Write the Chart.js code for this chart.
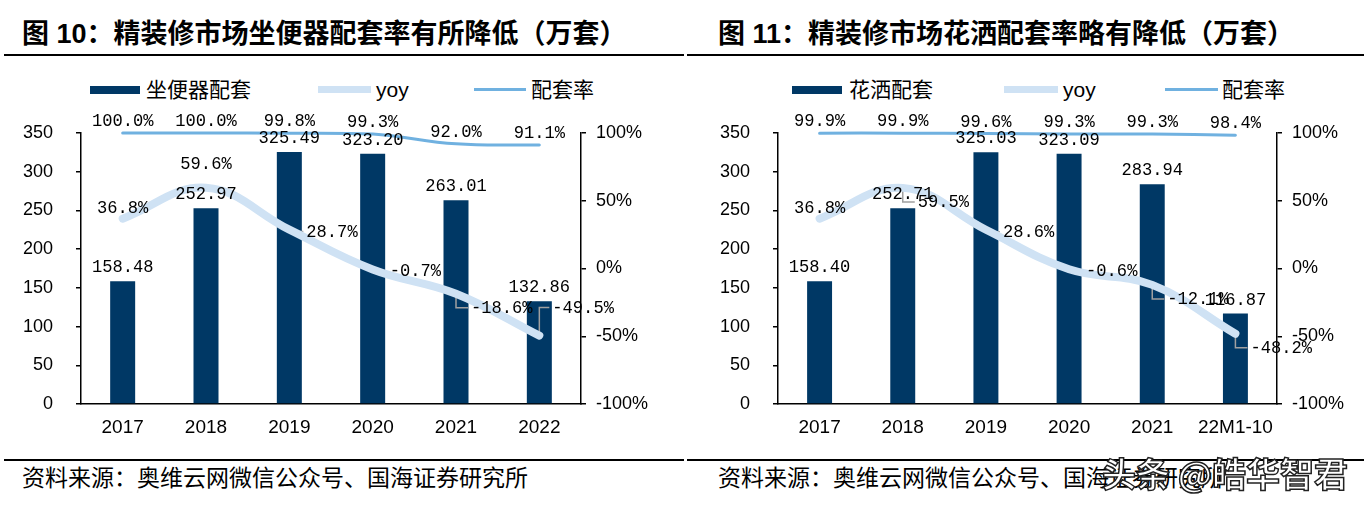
<!DOCTYPE html>
<html lang="zh">
<head>
<meta charset="UTF-8">
<title>精装修市场配套率</title>
<style>
  body {
    margin: 0;
    width: 1370px;
    height: 506px;
    background: #fff;
    position: relative;
    overflow: hidden;
    font-family: "Noto Sans CJK SC", sans-serif;
    color: #000;
  }
  .title {
    position: absolute;
    top: 21px;
    font-family: "Liberation Sans", "Noto Sans CJK SC", sans-serif;
    font-size: 27px;
    line-height: 27px;
    font-weight: bold;
    white-space: nowrap;
  }
  .rule { position: absolute; height: 2px; background: #000; }
  .source {
    position: absolute;
    top: 465px;
    font-size: 23px;
    line-height: 23px;
    white-space: nowrap;
  }
  .mark {
    position: absolute;
    top: 456px;
    left: 1102px;
    font-size: 34px;
    line-height: 34px;
    font-weight: bold;
    color: #fff;
    -webkit-text-stroke: 1.5px #222;
    white-space: nowrap;
  }
  .sw { position: absolute; }
  .lg {
    position: absolute;
    top: 78px;
    font-size: 21px;
    line-height: 21px;
    white-space: nowrap;
  }
  .lg.latin { font-family: "Liberation Sans", sans-serif; top: 79px; }
  canvas { position: absolute; top: 95px; }
</style>
</head>
<body>
  <div class="title" style="left:22px">图 10：精装修市场坐便器配套率有所降低（万套）</div>
  <div class="title" style="left:718px">图 11：精装修市场花洒配套率略有降低（万套）</div>
  <div class="rule" style="left:4px; width:680px; top:54px"></div>
  <div class="rule" style="left:687px; width:677px; top:54px"></div>

  <!-- 图例 -->
  <div class="sw" style="left:90px; top:86px; width:50px; height:8px; background:#003865"></div>
  <div class="lg" style="left:146px">坐便器配套</div>
  <div class="sw" style="left:318px; top:86px; width:53px; height:7px; background:#cfe2f4"></div>
  <div class="lg latin" style="left:376px">yoy</div>
  <div class="sw" style="left:474px; top:88px; width:52px; height:3px; background:#70b1e0"></div>
  <div class="lg" style="left:531px">配套率</div>

  <div class="sw" style="left:792px; top:86px; width:50px; height:8px; background:#003865"></div>
  <div class="lg" style="left:849px">花洒配套</div>
  <div class="sw" style="left:1004px; top:86px; width:54px; height:7px; background:#cfe2f4"></div>
  <div class="lg latin" style="left:1063px">yoy</div>
  <div class="sw" style="left:1165px; top:88px; width:53px; height:3px; background:#70b1e0"></div>
  <div class="lg" style="left:1222px">配套率</div>

  <canvas id="toiletChart" width="685" height="355" style="left:0px"></canvas>
  <canvas id="showerChart" width="685" height="355" style="left:685px"></canvas>

  <div class="rule" style="left:4px; width:680px; top:459px"></div>
  <div class="rule" style="left:687px; width:677px; top:459px"></div>
  <div class="source" style="left:22px">资料来源：奥维云网微信公众号、国海证券研究所</div>
  <div class="source" style="left:718px">资料来源：奥维云网微信公众号、国海证券研究所</div>
  <div class="mark">头条 @皓华智君</div>

  <script src="https://cdn.jsdelivr.net/npm/chart.js@4"></script>
  <script>
    // ==== 数据 ====
    const yearsA = ['2017', '2018', '2019', '2020', '2021', '2022'];
    const yearsB = ['2017', '2018', '2019', '2020', '2021', '22M1-10'];

    const toiletSets = [158.48, 252.97, 325.49, 323.20, 263.01, 132.86];
    const toiletYoy = [36.8, 59.6, 28.7, -0.7, -18.6, -49.5];
    const toiletRate = [100.0, 100.0, 99.8, 99.3, 92.0, 91.1];

    const showerSets = [158.40, 252.71, 325.03, 323.09, 283.94, 116.87];
    const showerYoy = [36.8, 59.5, 28.6, -0.6, -12.1, -48.2];
    const showerRate = [99.9, 99.9, 99.6, 99.3, 99.3, 98.4];

    // 轴刻度
    const leftAxis = { min: 0, max: 350, step: 50 };
    const rightAxis = { min: -100, max: 100, step: 50 };

    // yoy 标签摆放
    const toiletYoyPlace = ['top', 'high', 'right', 'right', 'belowright', 'aboveright'];
    const showerYoyPlace = ['top', 'belowright', 'right', 'right', 'belowright', 'belowright'];

    const NAVY = '#003865';
    const YOY = '#cfe2f4';
    const RATE = '#70b1e0';
    const LABEL_FONT = '19px "Liberation Mono", "DejaVu Sans Mono", monospace';
    const LABEL_SX = 0.9; // 标签字形横向压缩，近似宋体半角数字

    Chart.defaults.font.family = '"Liberation Sans", Arial, sans-serif';
    Chart.defaults.color = '#000';

    function labelWidth(ctx, txt) {
      return ctx.measureText(txt).width * LABEL_SX;
    }

    function drawLabel(ctx, txt, x, y) {
      ctx.save();
      ctx.translate(x, y);
      ctx.scale(LABEL_SX, 1);
      ctx.fillText(txt, 0, 0);
      ctx.restore();
    }

    // 计算 yoy 标签位置
    function yoyBox(el, place, w) {
      switch (place) {
        case 'high': return { x: el.x - w / 2, y: el.y - 24 };
        case 'right': return { x: el.x + 17, y: el.y + 2 };
        case 'belowright': return { x: el.x + 15, y: el.y + 14 };
        case 'aboveright': return { x: el.x + 13, y: el.y - 28 };
        default: return { x: el.x - w / 2, y: el.y - 11 };
      }
    }

    // 数据标签 + 引导线
    const valueLabels = {
      id: 'valueLabels',
      afterDatasetDraw(chart, args, opts) {
        if (args.index !== 0) return;
        // 柱子画完后、折线前画引导线
        const ctx = chart.ctx;
        ctx.save();
        ctx.font = LABEL_FONT;
        ctx.strokeStyle = '#a0a0a0';
        ctx.lineWidth = 1.5;
        const ds = chart.data.datasets[1];
        chart.getDatasetMeta(1).data.forEach((el, j) => {
          const place = opts.yoyPlace[j];
          if (place === 'top' || place === 'high') return;
          const txt = ds.data[j].toFixed(1) + '%';
          const b = yoyBox(el, place, labelWidth(ctx, txt));
          ctx.beginPath();
          ctx.moveTo(el.x, el.y);
          ctx.lineTo(el.x, b.y);
          ctx.lineTo(b.x - 3, b.y);
          ctx.stroke();
        });
        ctx.restore();
      },
      afterDatasetsDraw(chart, args, opts) {
        const ctx = chart.ctx;
        ctx.save();
        ctx.font = LABEL_FONT;
        ctx.fillStyle = '#000';
        ctx.textBaseline = 'middle';
        ctx.textAlign = 'left';
        chart.data.datasets.forEach((ds, i) => {
          chart.getDatasetMeta(i).data.forEach((el, j) => {
            const v = ds.data[j];
            const txt = i === 0 ? v.toFixed(2) : v.toFixed(1) + '%';
            const w = labelWidth(ctx, txt);
            let x, y;
            if (i === 0) { x = el.x - w / 2; y = el.y - 14; }
            else if (i === 2) { x = el.x - w / 2; y = el.y - 12; }
            else { const b = yoyBox(el, opts.yoyPlace[j], w); x = b.x; y = b.y; }
            drawLabel(ctx, txt, x, y);
          });
        });
        ctx.restore();
      }
    };

    function buildChart(id, cats, sets, yoy, rate, place, leftW, rightW) {
      return new Chart(document.getElementById(id), {
        type: 'bar',
        data: {
          labels: cats,
          datasets: [{
            type: 'bar',
            data: sets,
            backgroundColor: NAVY,
            yAxisID: 'y',
            order: 3,
            categoryPercentage: 1,
            barPercentage: 0.3
          }, {
            type: 'line',
            data: yoy,
            borderColor: YOY,
            borderWidth: 8,
            borderCapStyle: 'round',
            tension: 0.4,
            pointRadius: 0,
            yAxisID: 'y1',
            order: 2,
            clip: false
          }, {
            type: 'line',
            data: rate,
            borderColor: RATE,
            borderWidth: 3,
            borderCapStyle: 'round',
            tension: 0.4,
            pointRadius: 0,
            yAxisID: 'y1',
            order: 1,
            clip: false
          }]
        },
        options: {
          responsive: false,
          animation: false,
          layout: { padding: { top: 38 } },
          plugins: {
            legend: { display: false },
            tooltip: { enabled: false },
            valueLabels: { yoyPlace: place }
          },
          scales: {
            x: {
              grid: { display: false, drawTicks: false },
              border: { color: '#000', width: 1.5 },
              ticks: { font: { size: 19 }, padding: 12 },
              afterFit: s => { s.height = 46; }
            },
            y: {
              position: 'left',
              min: leftAxis.min,
              max: leftAxis.max,
              ticks: { stepSize: leftAxis.step, font: { size: 18 }, padding: 23 },
              grid: { drawOnChartArea: false, color: '#000', lineWidth: 1.5, tickLength: 5 },
              border: { color: '#000', width: 1.5 },
              afterFit: s => { s.width = leftW; }
            },
            y1: {
              position: 'right',
              min: rightAxis.min,
              max: rightAxis.max,
              ticks: { stepSize: rightAxis.step, font: { size: 18 }, padding: 10, callback: v => v + '%' },
              grid: { drawOnChartArea: false, color: '#000', lineWidth: 1.5, tickLength: 5 },
              border: { color: '#000', width: 1.5 },
              afterFit: s => { s.width = rightW; }
            }
          }
        },
        plugins: [valueLabels]
      });
    }

    buildChart('toiletChart', yearsA, toiletSets, toiletYoy, toiletRate, toiletYoyPlace, 81, 104);
    buildChart('showerChart', yearsB, showerSets, showerYoy, showerRate, showerYoyPlace, 93, 93);
  </script>
</body>
</html>
